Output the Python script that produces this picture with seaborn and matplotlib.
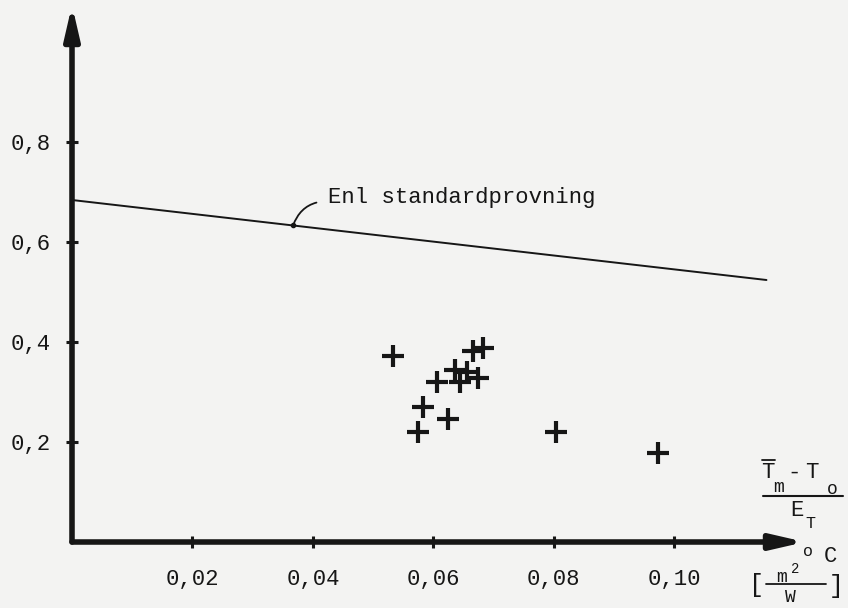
import numpy as np
import pandas as pd
import matplotlib
matplotlib.use("Agg")
import matplotlib.pyplot as plt
import seaborn as sns
from matplotlib.lines import Line2D

# mätpunkter
x_pts = [0.0533, 0.0666, 0.0682, 0.0636, 0.0656, 0.0674, 0.0644,
         0.0606, 0.0583, 0.0624, 0.0574, 0.0803, 0.0973]
y_pts = [0.372, 0.382, 0.388, 0.344, 0.340, 0.328, 0.320,
         0.320, 0.270, 0.246, 0.220, 0.220, 0.178]

# linje enl standardprovning
line_x = [0.0, 0.1153]
line_y = [0.684, 0.524]

x_ticks = [0.02, 0.04, 0.06, 0.08, 0.10]
x_labels = ["0,02", "0,04", "0,06", "0,08", "0,10"]
y_ticks = [0.2, 0.4, 0.6, 0.8]
y_labels = ["0,2", "0,4", "0,6", "0,8"]

sns.set_theme(style="white")
plt.rcParams["font.family"] = ["Liberation Mono", "DejaVu Sans Mono"]

ink = "#161616"
paper = "#f3f3f2"
W, H = 848, 608

fig = plt.figure(figsize=(8.48, 6.08), dpi=100, facecolor=paper)
ax = fig.add_axes([72 / W, 66 / H, (805 - 72) / W, (542 - 5) / H])
ax.set_facecolor(paper)

df = pd.DataFrame({"x": x_pts, "y": y_pts})
sns.lineplot(x=line_x, y=line_y, ax=ax, color=ink, lw=1.4)
sns.scatterplot(data=df, x="x", y="y", ax=ax, marker="+", s=270,
                color=ink, linewidth=3.0)

ax.set_xlim(0, 0.1217)
ax.set_ylim(0, 1.074)
for s in ax.spines.values():
    s.set_visible(False)
ax.set_xlabel("")
ax.set_ylabel("")

ax.set_xticks(x_ticks)
ax.set_xticklabels(x_labels)
ax.set_yticks(y_ticks)
ax.set_yticklabels(y_labels)
ax.tick_params(axis="both", which="both", direction="inout", length=9,
               width=2.2, color=ink, labelcolor=ink, labelsize=16)
ax.tick_params(axis="x", pad=15, bottom=True)
ax.tick_params(axis="y", pad=11, left=True)

# tjocka axlar med pilar
astyle = "-|>,head_length=0.65,head_width=0.15"
ax.annotate("", xy=(0, 1), xytext=(0, 0), xycoords="axes fraction",
            arrowprops=dict(arrowstyle=astyle, lw=4, color=ink,
                            mutation_scale=30, shrinkA=0, shrinkB=0))
ax.annotate("", xy=(1, 0), xytext=(0, 0), xycoords="axes fraction",
            arrowprops=dict(arrowstyle=astyle, lw=4, color=ink,
                            mutation_scale=30, shrinkA=0, shrinkB=0))

# etikett till linjen
px0 = 0.0367
py0 = line_y[0] + (line_y[1] - line_y[0]) * px0 / line_x[1]
ax.plot([px0], [py0], "o", color=ink, ms=3)
ax.annotate("Enl standardprovning", xy=(px0, py0), xytext=(0.0425, 0.69),
            fontsize=16, color=ink, va="center", ha="left",
            arrowprops=dict(arrowstyle="-", color=ink, lw=1.3,
                            connectionstyle="arc3,rad=0.35",
                            relpos=(0, 0.3), shrinkA=6, shrinkB=0))


def ft(x, y, s, size=16, **kw):
    fig.text(x / W, 1 - y / H, s, fontsize=size, color=ink,
             ha="center", va="center", **kw)


def fl(x0, x1, y, lw=1.5):
    fig.add_artist(Line2D([x0 / W, x1 / W], [1 - y / H, 1 - y / H],
                          color=ink, lw=lw, transform=fig.transFigure))


# axeltext: (Tm - To) / ET  [m2 oC / W]
ft(768, 473, "T")
fl(762, 775, 460, lw=1.3)
ft(779, 487, "m", size=13)
ft(794, 473, "-")
ft(812, 473, "T")
ft(832, 489, "o", size=13)
fl(763, 843, 496)
ft(797, 510, "E")
ft(810, 523, "T", size=12)

ft(808, 551, "o", size=12)
ft(830, 557, "C")
ft(757, 585, "[", size=18)
ft(782, 577, "m", size=13)
ft(795, 569, "2", size=10)
fl(766, 826, 584, lw=1.3)
ft(790, 598, "W", size=13)
ft(836, 586, "]", size=18)

fig.savefig("out.png", dpi=100, facecolor=paper)
